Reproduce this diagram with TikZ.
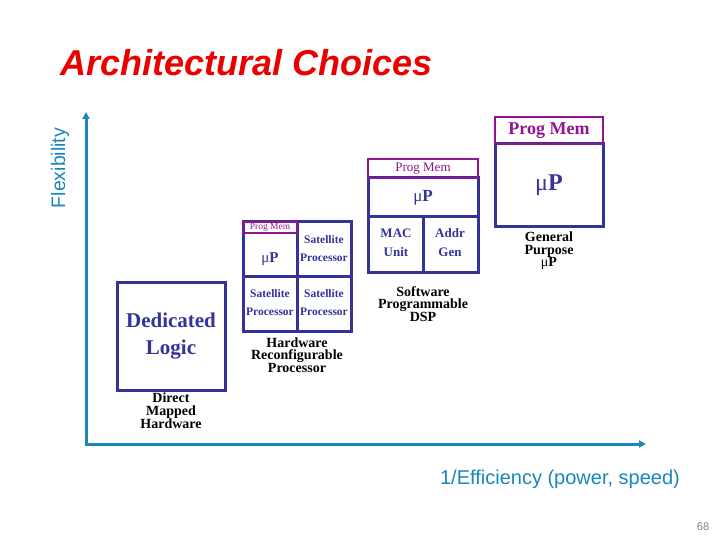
\documentclass[tikz,border=0pt]{standalone}
\usepackage{fontspec}
\setmainfont{Liberation Serif}
\newfontfamily\arial{Liberation Sans}
\usetikzlibrary{arrows.meta}
\definecolor{navy}{RGB}{51,51,153}
\definecolor{purp}{RGB}{145,20,145}
\definecolor{axiscol}{RGB}{25,135,185}
\definecolor{tred}{RGB}{235,0,0}
\begin{document}
\begin{tikzpicture}[x=1pt,y=-1pt,
 nv/.style={draw=navy,line width=3pt,inner sep=0pt,outer sep=0pt,text=navy,align=center},
 pm/.style={draw=purp,line width=2.5pt,inner sep=0pt,outer sep=0pt,text=purp,align=center},
 cell/.style={text=navy,align=center,inner sep=0pt},
 divider/.style={draw=navy,line width=3pt},
 capt/.style={align=center,font=\fontsize{14}{12.5}\selectfont\bfseries,text=black,inner sep=0pt},
 axisline/.style={draw=axiscol,line width=3pt,{Triangle[length=7pt,width=7pt]}-{Triangle[length=7pt,width=7pt]}}]
\useasboundingbox (0,0) rectangle (720,540);
\fill[white] (0,0) rectangle (720,540);
% title
\node[font=\arial\fontsize{36}{40}\selectfont\bfseries\itshape,text=tred,anchor=base west,inner sep=0pt] (title) at (60,76) {Architectural Choices};
% axes
\coordinate (yt) at (86,112);
\coordinate (o) at (86,444);
\coordinate (xt) at (646,444);
\draw[axisline] (yt) -- (o) -- (xt);
\node[font=\arial\fontsize{19.5}{22}\selectfont,text=axiscol,rotate=90,inner sep=0pt] (flex) at (60,168) {Flexibility};
\node[font=\arial\fontsize{20}{22}\selectfont,text=axiscol,inner sep=0pt] (eff) at (560,479) {1/Efficiency (power, speed)};
\node[font=\arial\fontsize{11}{12}\selectfont,text=gray,inner sep=0pt] (pg) at (703,527) {68};
% dedicated logic
\node[nv,minimum width=108pt,minimum height=108pt,font=\fontsize{21}{27}\selectfont\bfseries] (dl) at (171,336) {Dedicated\\Logic};
\node[capt] (dlc) at (171,411) {Direct\\Mapped\\Hardware};
% hardware reconfigurable processor
\node[nv,minimum width=108pt,minimum height=109pt] (hrp) at (297,276.5) {};
\draw[divider] (hrp.north) -- (hrp.south);
\draw[divider] (hrp.west) -- (hrp.east);
\node[pm,minimum width=54pt,minimum height=11pt,font=\fontsize{9.5}{9.5}\selectfont] (hpm) at (270,227.5) {Prog Mem};
\node[cell,font=\fontsize{15}{15}\selectfont\bfseries] (hup) at (270,259) {{\mdseries μ}P};
\node[cell,font=\fontsize{11.5}{18}\selectfont\bfseries] (hs1) at (324,249) {Satellite\\Processor};
\node[cell,font=\fontsize{11.5}{18}\selectfont\bfseries] (hs2) at (270,303) {Satellite\\Processor};
\node[cell,font=\fontsize{11.5}{18}\selectfont\bfseries] (hs3) at (324,303) {Satellite\\Processor};
\node[capt] (hrpc) at (297,355) {Hardware\\Reconfigurable\\Processor};
% software programmable DSP
\node[nv,minimum width=110pt,minimum height=39pt,font=\fontsize{17}{17}\selectfont\bfseries] (dup) at (423,197.5) {{\mdseries μ}P};
\node[nv,minimum width=110pt,minimum height=55pt] (dlow) at (423,244.5) {};
\draw[divider] (dlow.north) -- (dlow.south);
\node[cell,font=\fontsize{13}{19}\selectfont\bfseries] (mac) at (396,243) {MAC\\Unit};
\node[cell,font=\fontsize{13}{19}\selectfont\bfseries] (addr) at (450,243) {Addr\\Gen};
\node[pm,minimum width=110pt,minimum height=19pt,font=\fontsize{13}{13}\selectfont] (dpm) at (423,168.5) {Prog Mem};
\node[capt] (dspc) at (423,304) {Software\\Programmable\\DSP};
% general purpose microprocessor
\node[nv,minimum width=108pt,minimum height=83pt,font=\fontsize{24}{24}\selectfont\bfseries] (gup) at (549,185.5) {{\mdseries μ}P};
\node[pm,minimum width=108pt,minimum height=27pt,font=\fontsize{18}{18}\selectfont\bfseries] (gpm) at (549,130.5) {Prog Mem};
\node[capt] (gpc) at (549,251) {General\\Purpose\\{\mdseries μ}P};
\end{tikzpicture}
\end{document}
